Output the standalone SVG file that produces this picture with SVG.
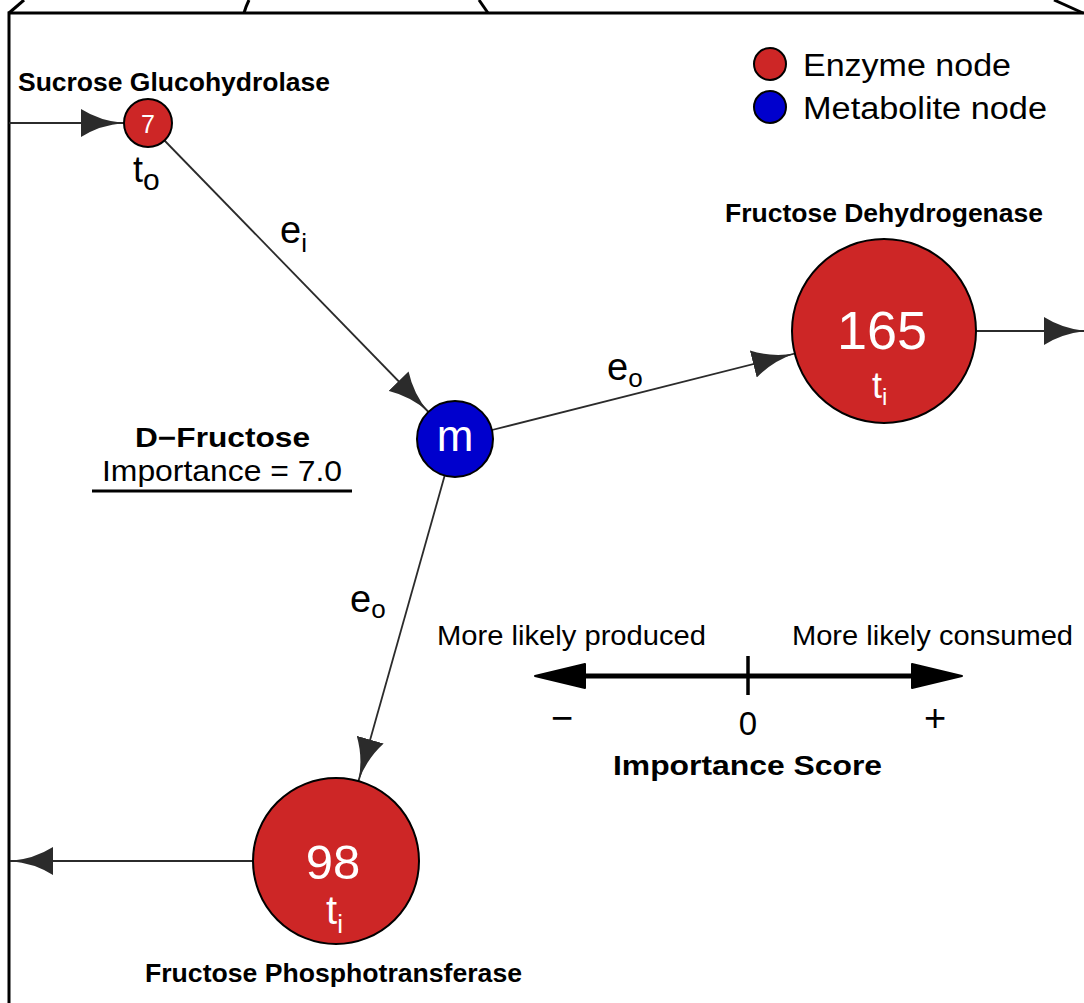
<svg xmlns="http://www.w3.org/2000/svg" width="1084" height="1003" viewBox="0 0 1084 1003">
<style>
text{font-family:"Liberation Sans",Arial,Helvetica,sans-serif;fill:#000}
.b{font-weight:bold}
.w{fill:#fff}
.enz{fill:#CD2626;stroke:#000;stroke-width:2}
.met{fill:#0000CD;stroke:#000;stroke-width:2}
.edge{stroke:#2b2b2b;stroke-width:1.8;fill:none;marker-end:url(#ah)}
.frame{stroke:#000;stroke-width:3;fill:none}
</style>
<defs>
<marker id="ah" viewBox="-43 -14 43 28" refX="0" refY="0" markerWidth="43" markerHeight="28" markerUnits="userSpaceOnUse" orient="auto">
<path d="M0,0 Q-24,-2 -43,-14 L-43,14 Q-24,2 0,0 Z" fill="#2b2b2b"/>
</marker>
</defs>
<g id="frame" class="frame">
<path d="M9,1003 L9,13 L1084,13"/>
<path d="M9,13 L24,0"/>
<path d="M244,13 Q246,6 249,0"/>
<path d="M488,13 L479,0"/>
<path d="M1054,0 L1083,13"/>
</g>
<g id="connectors">
<line class="edge" x1="9" y1="123" x2="124" y2="123"/>
<line class="edge" x1="164" y1="140" x2="428.5" y2="412"/>
<line class="edge" x1="492" y1="430" x2="795" y2="353.5"/>
<line class="edge" x1="976" y1="331" x2="1087" y2="331"/>
<line class="edge" x1="444.7" y1="475.6" x2="358.5" y2="781"/>
<line class="edge" x1="253" y1="861" x2="10" y2="861"/>
</g>
<g id="edge-labels">
<text x="280" y="243" font-size="38">e<tspan font-size="26" dy="9">i</tspan></text>
<text x="607" y="380" font-size="38">e<tspan font-size="26" dy="7">o</tspan></text>
<text x="350" y="612" font-size="38">e<tspan font-size="26" dy="6">o</tspan></text>
</g>
<g id="node-sucrose">
<circle class="enz" cx="148" cy="123" r="24"/>
<text class="w" x="148" y="133" font-size="25" text-anchor="middle">7</text>
<text class="b" x="18" y="91" font-size="25" textLength="312" lengthAdjust="spacingAndGlyphs">Sucrose Glucohydrolase</text>
<text x="133" y="182" font-size="36">t<tspan font-size="30" dy="8">o</tspan></text>
</g>
<g id="node-m">
<circle class="met" cx="455" cy="439" r="38"/>
<text class="w" x="455" y="451" font-size="44" text-anchor="middle">m</text>
</g>
<g id="node-fd">
<circle class="enz" cx="884" cy="331" r="92"/>
<text class="w" x="882" y="349" font-size="54" text-anchor="middle">165</text>
<text class="w" x="872" y="398" font-size="36">t<tspan font-size="24" dy="7">i</tspan></text>
<text class="b" x="725" y="222" font-size="25" textLength="318" lengthAdjust="spacingAndGlyphs">Fructose Dehydrogenase</text>
</g>
<g id="node-fp">
<circle class="enz" cx="336" cy="861" r="83"/>
<text class="w" x="333" y="879" font-size="49" text-anchor="middle">98</text>
<text class="w" x="326" y="924" font-size="40">t<tspan font-size="26" dy="9">i</tspan></text>
<text class="b" x="145" y="982" font-size="26.5" textLength="377" lengthAdjust="spacingAndGlyphs">Fructose Phosphotransferase</text>
</g>
<g id="info-metabolite">
<text class="b" x="135" y="447" font-size="27" textLength="175" lengthAdjust="spacingAndGlyphs">D−Fructose</text>
<text x="102" y="481" font-size="30" textLength="240" lengthAdjust="spacingAndGlyphs">Importance = 7.0</text>
<line x1="92" y1="491" x2="352" y2="491" stroke="#000" stroke-width="3"/>
</g>
<g id="legend">
<circle class="enz" cx="770" cy="64" r="16"/>
<text x="803" y="76" font-size="31" textLength="208" lengthAdjust="spacingAndGlyphs">Enzyme node</text>
<circle class="met" cx="770" cy="107" r="16"/>
<text x="803" y="119" font-size="31" textLength="244" lengthAdjust="spacingAndGlyphs">Metabolite node</text>
</g>
<g id="scale">
<text x="437" y="645" font-size="28" textLength="269" lengthAdjust="spacingAndGlyphs">More likely produced</text>
<text x="792" y="645" font-size="28" textLength="281" lengthAdjust="spacingAndGlyphs">More likely consumed</text>
<line x1="575" y1="676" x2="922" y2="676" stroke="#000" stroke-width="5"/>
<path d="M535,676 Q560,670 585,664 L585,688 Q560,682 535,676 Z" fill="#000" stroke="#000" stroke-width="2" stroke-linejoin="round"/>
<path d="M962,676 Q937,670 912,664 L912,688 Q937,682 962,676 Z" fill="#000" stroke="#000" stroke-width="2" stroke-linejoin="round"/>
<line x1="748" y1="656" x2="748" y2="695" stroke="#000" stroke-width="3.5"/>
<text x="562" y="731" font-size="38" text-anchor="middle">−</text>
<text x="748" y="735" font-size="33" text-anchor="middle">0</text>
<text x="935" y="731" font-size="38" text-anchor="middle">+</text>
<text class="b" x="613" y="775" font-size="28" textLength="269" lengthAdjust="spacingAndGlyphs">Importance Score</text>
</g>
</svg>
